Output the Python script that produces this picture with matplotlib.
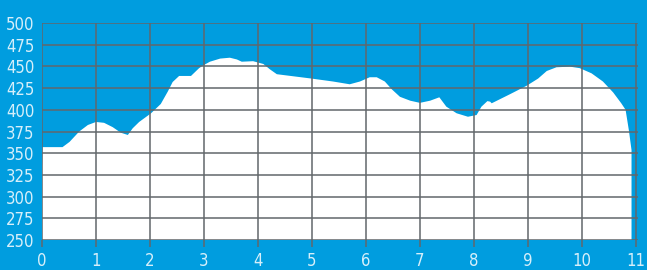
import numpy as np
import matplotlib
matplotlib.use('Agg')
import matplotlib.pyplot as plt

# Elevation profile (distance, elevation)
dist = [-0.04, 0.01, 0.38, 0.51, 0.69, 0.85, 1.0, 1.15, 1.31, 1.46, 1.59,
        1.68, 1.80, 2.02, 2.20, 2.33, 2.42, 2.54, 2.76, 2.91, 3.0, 3.11,
        3.30, 3.48, 3.61, 3.70, 3.91, 4.10, 4.22, 4.35, 4.99, 5.39, 5.70,
        5.89, 6.07, 6.20, 6.35, 6.48, 6.63, 6.82, 7.0, 7.19, 7.36, 7.49,
        7.68, 7.89, 8.05, 8.14, 8.25, 8.30, 8.33, 8.67, 8.98, 9.19, 9.35,
        9.53, 9.78, 9.96, 10.18, 10.39, 10.58, 10.73, 10.81, 10.87, 10.92,
        10.92]
elev = [250, 357, 357, 363, 375, 382.5, 386, 385, 380, 373.6, 371,
        378.7, 386, 396, 406.7, 421, 432, 439, 439, 448, 451.6, 455.4,
        459, 460, 458, 455.4, 456, 452.8, 446.7, 441, 436, 432.6, 429.4,
        432.6, 437.5, 437.5, 432.6, 423.6, 415, 410.5, 408, 410.5, 414.4, 403.6,
        396, 392, 394, 403.6, 410, 409.4, 407.5, 418, 427.8, 436, 444.7,
        449, 449.7, 448, 442, 432.6, 420, 407.5, 400, 376.7, 353.7,
        250]

xticks = list(range(0, 12))
yticks = list(range(250, 501, 25))

BG = '#009ddf'
GRID = '#62676b'
TXT = '#d6effa'
FONT = dict(family=['DejaVu Sans'], stretch='condensed', size=12, color=TXT)

fig = plt.figure(figsize=(6.47, 2.70), dpi=100, facecolor=BG)
ax = fig.add_axes([42/647, 30/270, (638-42)/647, (240-23)/270])
ax.set_facecolor(BG)

ax.fill(dist, elev, color='white', lw=0, zorder=1)

for x in xticks:
    ax.axvline(x, color=GRID, lw=1.1, zorder=2)
for y in yticks:
    ax.axhline(y, color=GRID, lw=1.1, zorder=2)

ax.set_xlim(0, 11.04)
ax.set_ylim(250, 500)
ax.set_xticks(xticks)
ax.set_yticks(yticks)
ax.set_xticklabels([str(v) for v in xticks], **FONT)
ax.set_yticklabels([str(v) for v in yticks], **FONT)
ax.tick_params(axis='x', length=5, width=1.1, color=GRID, pad=4)
ax.tick_params(axis='y', length=0, pad=5.5)
for s in ax.spines.values():
    s.set_visible(False)

fig.savefig('out.png', dpi=100, facecolor=BG)
